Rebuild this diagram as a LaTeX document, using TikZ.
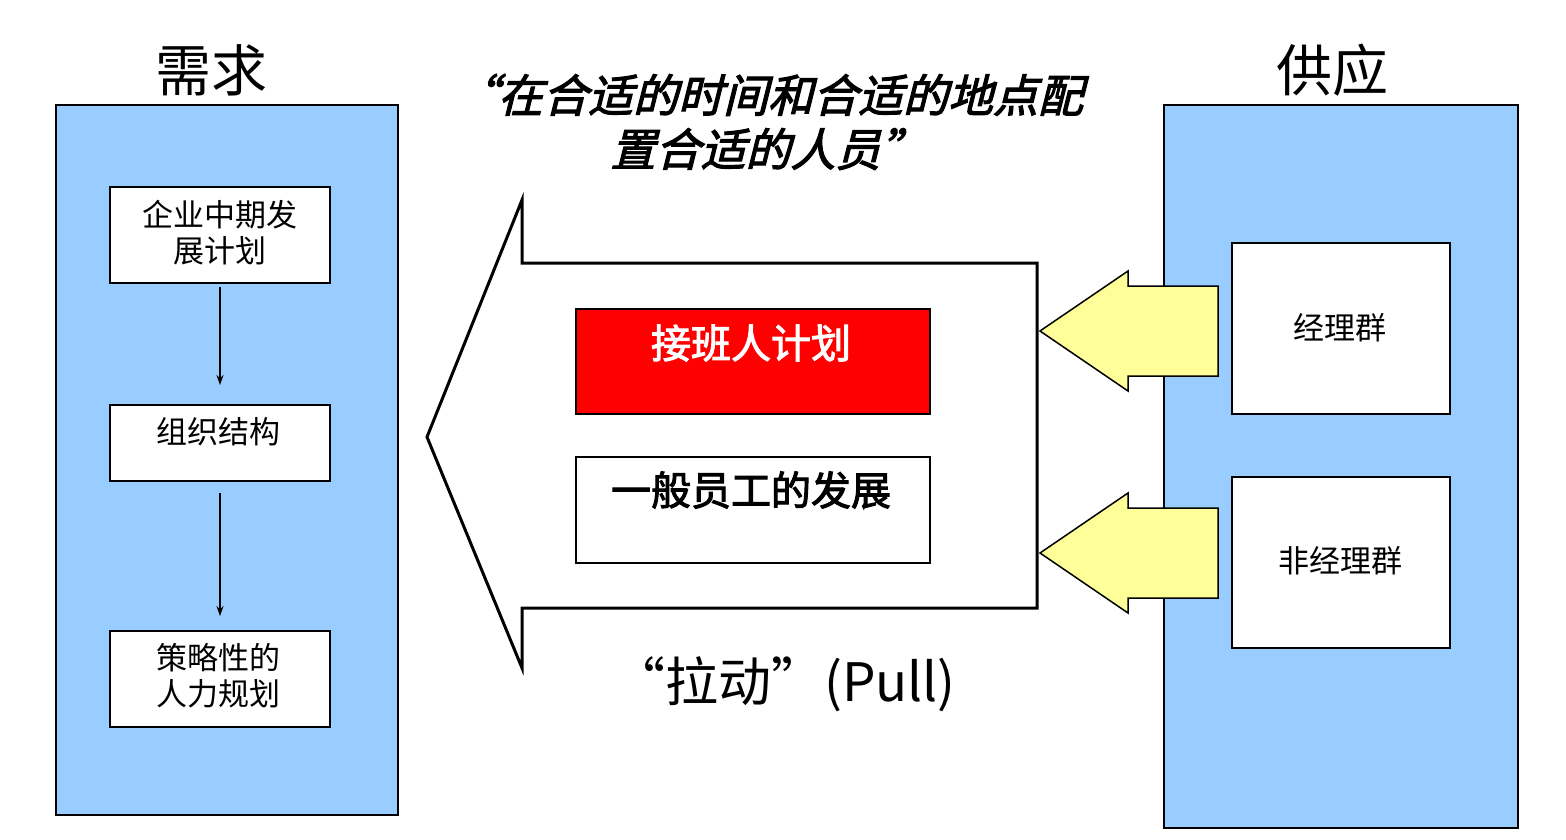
\documentclass[tikz,border=0pt]{standalone}
\usepackage{fontspec}
\setmainfont{Noto Sans CJK SC}
\newfontfamily\cjk{Noto Sans CJK SC}
\newfontfamily\cjkb{Noto Sans CJK SC}[FakeBold=2.5]
\newfontfamily\cjkbi{Noto Sans CJK SC}[FakeBold=2.5,FakeSlant=0.25]
\definecolor{sky}{HTML}{99CCFF}
\definecolor{pale}{HTML}{FFFF99}
\usetikzlibrary{arrows.meta}
\begin{document}
\begin{tikzpicture}[x=1pt,y=-1pt,
  panel/.style={draw=black,fill=sky,line width=1.5pt},
  box/.style={draw=black,fill=white,line width=1.5pt},
  yarrow/.style={draw=black,fill=pale,line width=1.5pt},
  txt/.style={font=\cjk\fontsize{31}{36}\selectfont,align=center},
  conn/.style={-{Stealth[length=10pt,width=7pt]},line width=1.3pt}]
\useasboundingbox (0,0) rectangle (1566,840);
% panels
\draw[panel] (56,105) rectangle (398,815);
\draw[panel] (1164,105) rectangle (1518,828);
\node[font=\cjk\fontsize{56}{60}\selectfont] (dem) at (211,70) {需求};
\node[font=\cjk\fontsize{56}{60}\selectfont] (sup) at (1332,70) {供应};
% left boxes
\draw[box] (110,187) rectangle (330,283);
\node[txt] (b1) at (220,233) {企业中期发\\展计划};
\draw[box] (110,405) rectangle (330,481);
\node[txt] (b2) at (218,432) {组织结构};
\draw[box] (110,631) rectangle (330,727);
\node[txt] (b3) at (218,676) {策略性的\\人力规划};
\coordinate (a1s) at (220,287); \coordinate (a1e) at (220,385);
\coordinate (a2s) at (220,493); \coordinate (a2e) at (220,616);
\draw[conn] (a1s) -- (a1e);
\draw[conn] (a2s) -- (a2e);
% right boxes
\draw[box] (1232,243) rectangle (1450,414);
\node[txt] (m) at (1340,328) {经理群};
\draw[box] (1232,477) rectangle (1450,648);
\node[txt] (nm) at (1340,561) {非经理群};
% big arrow
\draw[draw=black,fill=white,line width=3pt,line join=miter]
  (522,200) -- (522,263) -- (1037,263) -- (1037,608) -- (522,608) -- (522,668) -- (427,437) -- cycle;
\draw[draw=black,fill=red,line width=1.5pt] (576,309) rectangle (930,414);
\node[font=\cjkb\fontsize{40}{44}\selectfont,text=white] (r) at (751,343) {接班人计划};
\draw[box] (576,457) rectangle (930,563);
\node[font=\cjkb\fontsize{40}{44}\selectfont] (g) at (751,490) {一般员工的发展};
% yellow arrows
\draw[yarrow] (1040,331) -- (1128,271) -- (1128,286) -- (1218,286) -- (1218,376) -- (1128,376) -- (1128,391) -- cycle;
\draw[yarrow] (1040,553) -- (1128,493) -- (1128,508) -- (1218,508) -- (1218,598) -- (1128,598) -- (1128,613) -- cycle;
% title
\node[font=\cjkbi\fontsize{45}{54}\selectfont,align=center] (t) at (768,122) {“在合适的时间和合适的地点配\\置合适的人员”};
\node[font=\cjk\fontsize{53}{58}\selectfont] (p) at (784,684) {“拉动”(Pull)};
\end{tikzpicture}
\end{document}
